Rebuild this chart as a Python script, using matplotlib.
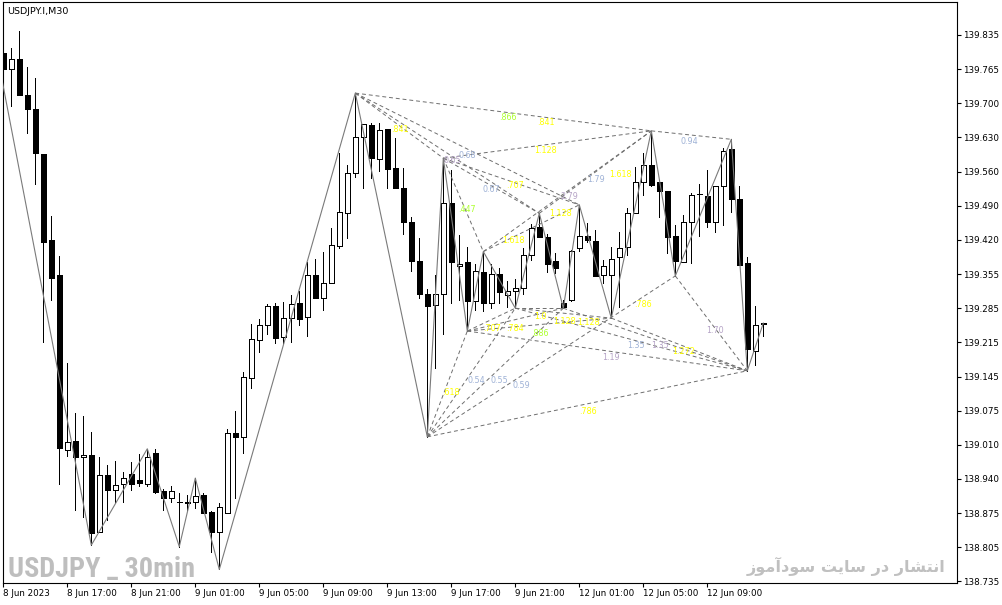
import unicodedata
import matplotlib
matplotlib.use('Agg')
import matplotlib.pyplot as plt
from matplotlib import font_manager

# USDJPY M30 candles, 8 Jun 13:00 .. 12 Jun 11:30
opens = [139.799, 139.766, 139.786, 139.714, 139.687, 139.595, 139.422, 139.352, 139.000, 139.018,
         138.985, 138.989, 138.835, 138.949, 138.920, 138.931, 138.951, 138.939, 138.932, 138.993,
         138.916, 138.902, 138.895, 138.895, 138.894, 138.909, 138.875, 138.835, 138.873, 139.034,
         139.025, 139.144, 139.220, 139.251, 139.289, 139.228, 139.265, 139.295, 139.267, 139.351,
         139.305, 139.336, 139.410, 139.477, 139.557, 139.629, 139.654, 139.586, 139.646, 139.567,
         139.527, 139.459, 139.380, 139.313, 139.291, 139.313, 139.497, 139.369, 139.378, 139.300,
         139.358, 139.295, 139.353, 139.312, 139.319, 139.326, 139.392, 139.448, 139.428, 139.380,
         139.295, 139.302, 139.407, 139.430, 139.421, 139.352, 139.352, 139.389, 139.409, 139.476,
         139.540, 139.573, 139.540, 139.521, 139.430, 139.379, 139.458, 139.514, 139.511, 139.458,
         139.530, 139.605, 139.505, 139.375, 139.199, 139.253]
highs = [139.808, 139.808, 139.843, 139.771, 139.749, 139.595, 139.471, 139.390, 139.175, 139.075,
         139.067, 139.036, 138.986, 138.969, 138.977, 138.955, 138.976, 138.991, 139.002, 139.001,
         138.921, 138.927, 138.912, 138.909, 138.943, 138.912, 138.877, 138.892, 139.041, 139.079,
         139.157, 139.254, 139.263, 139.293, 139.295, 139.297, 139.312, 139.320, 139.377, 139.384,
         139.399, 139.446, 139.597, 139.573, 139.718, 139.655, 139.657, 139.657, 139.646, 139.627,
         139.567, 139.469, 139.426, 139.323, 139.352, 139.587, 139.563, 139.432, 139.408, 139.374,
         139.399, 139.374, 139.366, 139.340, 139.344, 139.406, 139.455, 139.476, 139.434, 139.396,
         139.302, 139.402, 139.493, 139.456, 139.442, 139.382, 139.409, 139.438, 139.486, 139.570,
         139.597, 139.642, 139.540, 139.521, 139.452, 139.473, 139.516, 139.535, 139.563, 139.531,
         139.607, 139.625, 139.531, 139.389, 139.289, 139.255]
lows = [139.748, 139.692, 139.715, 139.638, 139.536, 139.216, 139.302, 138.932, 138.988, 138.879,
        138.865, 138.808, 138.835, 138.859, 138.894, 138.894, 138.920, 138.927, 138.927, 138.912,
        138.879, 138.895, 138.805, 138.879, 138.882, 138.872, 138.795, 138.759, 138.873, 138.902,
        138.994, 139.124, 139.197, 139.233, 139.214, 139.215, 139.216, 139.251, 139.230, 139.305,
        139.281, 139.335, 139.406, 139.426, 139.550, 139.526, 139.548, 139.562, 139.526, 139.526,
        139.434, 139.360, 139.306, 139.026, 139.165, 139.233, 139.295, 139.302, 139.239, 139.281,
        139.279, 139.286, 139.295, 139.288, 139.285, 139.314, 139.382, 139.428, 139.357, 139.355,
        139.285, 139.300, 139.401, 139.419, 139.350, 139.335, 139.265, 139.288, 139.392, 139.476,
        139.513, 139.530, 139.469, 139.397, 139.350, 139.379, 139.375, 139.431, 139.448, 139.439,
        139.452, 139.479, 139.372, 139.159, 139.171, 139.229]
closes = [139.766, 139.786, 139.715, 139.685, 139.597, 139.419, 139.346, 139.003, 139.016, 138.986,
          138.989, 138.833, 138.949, 138.920, 138.929, 138.943, 138.932, 138.934, 138.986, 138.914,
          138.902, 138.916, 138.895, 138.892, 138.906, 138.872, 138.835, 138.884, 139.033, 139.025,
          139.146, 139.222, 139.251, 139.289, 139.226, 139.265, 139.293, 139.264, 139.351, 139.305,
          139.335, 139.412, 139.478, 139.557, 139.629, 139.655, 139.588, 139.644, 139.566, 139.526,
          139.459, 139.381, 139.314, 139.290, 139.313, 139.497, 139.378, 139.374, 139.300, 139.359,
          139.296, 139.353, 139.318, 139.320, 139.326, 139.392, 139.446, 139.428, 139.373, 139.365,
          139.287, 139.400, 139.430, 139.422, 139.350, 139.370, 139.385, 139.407, 139.476, 139.540,
          139.573, 139.533, 139.520, 139.429, 139.381, 139.458, 139.513, 139.514, 139.458, 139.531,
          139.602, 139.504, 139.372, 139.202, 139.251, 139.255]

time_labels = ['8 Jun 2023', '8 Jun 17:00', '8 Jun 21:00', '9 Jun 01:00', '9 Jun 05:00',
               '9 Jun 09:00', '9 Jun 13:00', '9 Jun 17:00', '9 Jun 21:00', '12 Jun 01:00',
               '12 Jun 05:00', '12 Jun 09:00']
price_labels = ['139.835', '139.765', '139.700', '139.630', '139.560', '139.490', '139.420',
                '139.355', '139.285', '139.215', '139.145', '139.075', '139.010', '138.940',
                '138.875', '138.805', '138.735']
price_top = 139.835
price_step = 0.06875

# zigzag pivots (bar index, price)
zz_bars = [-1, 11, 18, 22, 24, 27, 44, 53, 55, 58, 60, 64, 67, 70, 72, 76, 81, 84, 91, 93, 95]
zz_prices = [139.815, 138.808, 139.002, 138.805, 138.943, 138.759, 139.718, 139.026, 139.587,
             139.239, 139.399, 139.285, 139.476, 139.285, 139.493, 139.265, 139.642, 139.350,
             139.625, 139.159, 139.255]

# harmonic pattern legs, as pairs of zigzag pivots
pattern_legs = [(6, 16), (16, 18), (6, 8), (6, 12), (6, 14), (8, 16), (8, 12), (8, 10), (8, 14),
                (10, 16), (10, 14), (12, 16), (7, 9), (7, 11), (7, 13), (7, 17), (7, 19),
                (9, 11), (9, 13), (9, 15), (9, 19), (11, 13), (11, 15), (11, 19), (13, 19),
                (15, 19), (17, 19)]

YEL, GRN, BLU, MAU = '#ffff00', '#adff2f', '#9fb2d6', '#b5a3c6'
ratio_text = ['.866', '.841', '.841', '1.128', '0.68', '0.65', '0.67', '.707', '.447', '1.79',
              '1.618', '2.79', '1.128', '1.618', '0.94', '.786', '1.0', '1.128', '1.128', '.707',
              '.784', '.886', '1.35', '1.35', '1.19', '1.272', '1.70', '0.54', '0.55', '0.59',
              '.618', '.786']
ratio_bar = [63.1, 67.8, 49.6, 67.8, 58.0, 56.1, 61.0, 64.0, 58.0, 74.1,
             77.1, 70.7, 69.7, 63.8, 85.8, 79.9, 67.1, 70.2, 73.1, 61.1,
             64.0, 67.1, 79.1, 82.1, 76.0, 85.0, 89.0, 59.1, 62.0, 64.8,
             56.0, 73.1]
ratio_price = [139.668, 139.658, 139.644, 139.603, 139.593, 139.583, 139.523, 139.531, 139.483,
               139.545, 139.555, 139.509, 139.475, 139.422, 139.620, 139.293, 139.269, 139.259,
               139.257, 139.245, 139.245, 139.235, 139.209, 139.209, 139.185, 139.197, 139.241,
               139.140, 139.140, 139.130, 139.116, 139.078]
ratio_color = [GRN, YEL, YEL, YEL, BLU, MAU, BLU, YEL, GRN, BLU,
               YEL, MAU, YEL, YEL, BLU, YEL, YEL, YEL, YEL, YEL,
               YEL, GRN, BLU, MAU, MAU, YEL, MAU, BLU, BLU, BLU,
               YEL, YEL]

symbol_mark = 'USDJPY _ 30min'
site_mark = 'انتشار در سایت سودآموز'

# Arabic letter forms: isolated, final, initial, medial
FORMS = {
    'ا': ('\uFE8D', '\uFE8E', None, None),
    'آ': ('\uFE81', '\uFE82', None, None),
    'ن': ('\uFEE5', '\uFEE6', '\uFEE7', '\uFEE8'),
    'ت': ('\uFE95', '\uFE96', '\uFE97', '\uFE98'),
    'ش': ('\uFEB5', '\uFEB6', '\uFEB7', '\uFEB8'),
    'ر': ('\uFEAD', '\uFEAE', None, None),
    'د': ('\uFEA9', '\uFEAA', None, None),
    'س': ('\uFEB1', '\uFEB2', '\uFEB3', '\uFEB4'),
    'ی': ('\uFBFC', '\uFBFD', '\uFBFE', '\uFBFF'),
    'و': ('\uFEED', '\uFEEE', None, None),
    'م': ('\uFEE1', '\uFEE2', '\uFEE3', '\uFEE4'),
    'ز': ('\uFEAF', '\uFEB0', None, None),
}


def shape_word(word):
    out = []
    for i, ch in enumerate(word):
        iso, fin, ini, med = FORMS[ch]
        prev_joins = i > 0 and FORMS[word[i - 1]][2] is not None
        next_joins = ini is not None and i < len(word) - 1
        if prev_joins and next_joins:
            out.append(med)
        elif prev_joins:
            out.append(fin)
        elif next_joins:
            out.append(ini)
        else:
            out.append(iso)
    return ''.join(out)


def rtl(text):
    text = unicodedata.normalize('NFC', text)
    return ' '.join(shape_word(w)[::-1] for w in text.split()[::-1])


W, H = 1003, 605
fig = plt.figure(figsize=(W / 100, H / 100), dpi=100)
ax = fig.add_axes([2.7 / W, 1 - 583 / H, (957 - 2.7) / W, (583 - 2) / H])

n = len(opens)
xs = list(range(n))
ax.vlines(xs, lows, highs, color='black', lw=0.6, antialiased=False, zorder=2)
body_low = [min(o, c) for o, c in zip(opens, closes)]
body_h = [abs(c - o) for o, c in zip(opens, closes)]
body_col = ['white' if c >= o else 'black' for o, c in zip(opens, closes)]
ax.bar(xs, body_h, bottom=body_low, width=0.55, color=body_col, edgecolor='black',
       linewidth=0.55, antialiased=False, zorder=3)

for a, b in pattern_legs:
    ax.plot([zz_bars[a], zz_bars[b]], [zz_prices[a], zz_prices[b]], color='#6e6e6e',
            lw=0.7, ls=(0, (4, 3)), zorder=4)
ax.plot(zz_bars, zz_prices, color='#7a7a7a', lw=0.8, zorder=4)

for t, bx, py, col in zip(ratio_text, ratio_bar, ratio_price, ratio_color):
    ax.text(bx, py, t, color=col, fontsize=5.8, ha='center', va='center', zorder=5)

ax.set_xlim(-0.075, 119.21)
ax.set_ylim(138.7318, 139.9014)
ax.yaxis.tick_right()
ax.set_yticks([price_top - k * price_step for k in range(len(price_labels))])
ax.set_yticklabels(price_labels)
ax.set_xticks(list(range(0, 8 * len(time_labels), 8)))
ax.set_xticklabels(time_labels)
for lbl in ax.get_xticklabels():
    lbl.set_ha('left')
ax.tick_params(axis='both', direction='out', length=3, width=0.8, pad=1.5, labelsize=6.3)
for sp in ax.spines.values():
    sp.set_linewidth(0.8)
    sp.set_color('black')

fig.text(7 / W, 1 - 11 / H, 'USDJPY.I,M30', fontsize=6.8, ha='left', va='center')

names = {f.name for f in font_manager.fontManager.ttflist}
narrow = next((f for f in ['Liberation Sans Narrow', 'Roboto Condensed', 'DejaVu Sans']
               if f in names), 'DejaVu Sans')
wm1 = fig.text(8 / W, 1 - 577 / H, symbol_mark, fontsize=24, fontweight='bold',
               family=narrow, color='#bebebe', ha='left', va='baseline')
wm2 = fig.text(945 / W, 1 - 566 / H, rtl(site_mark), fontsize=14, fontweight='bold',
               family='DejaVu Sans', color='#c0c0c0', ha='right', va='center')


def fit_width(txt, px):
    fig.canvas.draw()
    w = txt.get_window_extent().width
    txt.set_fontsize(txt.get_fontsize() * px / w)


fit_width(wm1, 187)
fit_width(wm2, 200)

fig.savefig('out.png', dpi=100)
